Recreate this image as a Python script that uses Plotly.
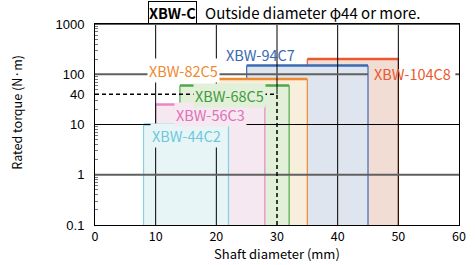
import math
import plotly.graph_objects as go

# ---------------- data ----------------
models = ["XBW-44C2", "XBW-56C3", "XBW-68C5", "XBW-82C5", "XBW-94C7", "XBW-104C8"]
shaft_min = [8, 10, 14, 20, 25, 35]
shaft_max = [22, 28, 32, 35, 45, 50]
rated_torque = [10, 25, 60, 80, 150, 200]

x_ticks = [0, 10, 20, 30, 40, 50, 60]
y_ticks = [0.1, 1, 10, 40, 100, 1000]
y_tick_text = ["0.1", "1", "10", "40", "100", "1000"]

ref_shaft = 30
ref_torque = 40

# ---------------- styles ----------------
line_colors = ["#86d0e2", "#e588c4", "#4ea84a", "#ee8a30", "#3b69b3", "#ea5a2e"]
text_colors = ["#6ec8dc", "#e070b8", "#3f9a3f", "#ee8a30", "#3a68b2", "#e95a30"]
fill_colors = ["#e8f5f7", "#f5e8f1", "#e3f0d9", "#f7eedb", "#dfe5ef", "#f1ddd4"]
label_x = [15, 19, 22.1, 14.6, 27.3, 52.3]
label_dy = [-11, -10, -10, 8.5, 11, -14]
label_bg = [fill_colors[0], fill_colors[1], fill_colors[2], "white",
            "rgba(0,0,0,0)", "rgba(0,0,0,0)"]

Y_MIN, Y_MAX = 0.1, 1000
X_MIN, X_MAX = 0, 60
FONT = "Noto Sans CJK JP"
GRID_DARK = "#606060"

shapes = []
# rectangles, back to front
for i in reversed(range(len(models))):
    x0, x1, top = shaft_min[i], shaft_max[i], rated_torque[i]
    shapes.append(dict(type="rect", xref="x", yref="y", x0=x0, x1=x1, y0=Y_MIN, y1=top,
                       fillcolor=fill_colors[i], line=dict(width=0)))
    for xv in (x0, x1):
        shapes.append(dict(type="line", xref="x", yref="y", x0=xv, x1=xv, y0=Y_MIN, y1=top,
                           line=dict(color=line_colors[i], width=1.2)))
    shapes.append(dict(type="line", xref="x", yref="y", x0=x0, x1=x1, y0=top, y1=top,
                       line=dict(color=line_colors[i], width=2.5)))

# vertical grid lines
for xv in x_ticks[1:-1]:
    ybot = ref_torque if xv == ref_shaft else Y_MIN
    shapes.append(dict(type="line", xref="x", yref="y", x0=xv, x1=xv, y0=ybot, y1=Y_MAX,
                       line=dict(color="black", width=1)))
# horizontal grid lines
shapes.append(dict(type="line", xref="x", yref="y", x0=X_MIN, x1=X_MAX, y0=10, y1=10,
                   line=dict(color="black", width=1)))
shapes.append(dict(type="line", xref="x", yref="y", x0=X_MIN, x1=X_MAX, y0=1, y1=1,
                   line=dict(color=GRID_DARK, width=2)))
shapes.append(dict(type="line", xref="x", yref="y", x0=X_MIN, x1=shaft_max[4], y0=100, y1=100,
                   line=dict(color=GRID_DARK, width=2)))
shapes.append(dict(type="line", xref="x", yref="y", x0=59.4, x1=X_MAX, y0=100, y1=100,
                   line=dict(color=GRID_DARK, width=2)))
shapes.append(dict(type="line", xref="x", yref="y", x0=X_MIN, x1=X_MAX, y0=Y_MAX, y1=Y_MAX,
                   line=dict(color=GRID_DARK, width=2)))
# dashed reference
shapes.append(dict(type="line", xref="x", yref="y", x0=X_MIN, x1=ref_shaft, y0=ref_torque, y1=ref_torque,
                   line=dict(color="black", width=1.5, dash="4px,3px")))
shapes.append(dict(type="line", xref="x", yref="y", x0=ref_shaft, x1=ref_shaft, y0=Y_MIN, y1=ref_torque,
                   line=dict(color="black", width=1.5, dash="4px,3px")))

annotations = []
for i, m in enumerate(models):
    annotations.append(dict(x=label_x[i], y=math.log10(rated_torque[i]), xref="x", yref="y",
                            yshift=label_dy[i], text=m, showarrow=False,
                            font=dict(family=FONT, size=14.5, color=text_colors[i]),
                            bgcolor=label_bg[i], borderpad=1, xanchor="center", yanchor="middle"))

annotations.append(dict(x=0.2116, y=1.058, xref="paper", yref="paper", text="<b>XBW-C</b>",
                        showarrow=False, font=dict(family=FONT, size=14.5, color="black"),
                        bordercolor="black", borderwidth=1, borderpad=0,
                        xanchor="center", yanchor="middle"))
annotations.append(dict(x=0.296, y=1.058, xref="paper", yref="paper",
                        text="Outside diameter φ44 or more.",
                        showarrow=False, font=dict(family=FONT, size=15, color="black"),
                        xanchor="left", yanchor="middle"))
annotations.append(dict(x=-0.218, y=0.562, xref="paper", yref="paper", text="Rated torque (N·m)",
                        textangle=-90, showarrow=False, font=dict(family=FONT, size=12.5, color="black"),
                        xanchor="center", yanchor="middle"))
annotations.append(dict(x=0.5, y=-0.142, xref="paper", yref="paper", text="Shaft diameter (mm)",
                        showarrow=False, font=dict(family=FONT, size=13, color="black"),
                        xanchor="center", yanchor="middle"))

minor_vals = [m * 10 ** k for k in range(-1, 3) for m in range(2, 10)]

fig = go.Figure()
fig.add_trace(go.Scatter(x=[X_MIN], y=[Y_MIN], mode="markers", marker=dict(opacity=0),
                         hoverinfo="skip", showlegend=False))
fig.update_layout(
    width=475, height=265,
    margin=dict(l=95, r=9, t=24, b=40),
    paper_bgcolor="white", plot_bgcolor="white",
    showlegend=False,
    shapes=shapes, annotations=annotations,
    xaxis=dict(range=[X_MIN, X_MAX], tickvals=x_ticks, showgrid=False, zeroline=False,
               showline=True, linecolor="black", linewidth=1, mirror=True, ticks="",
               tickfont=dict(family=FONT, size=12.5, color="black")),
    yaxis=dict(type="log", range=[math.log10(Y_MIN), math.log10(Y_MAX)], tickvals=y_ticks,
               ticktext=y_tick_text, showgrid=False, zeroline=False, showline=True,
               linecolor="black", linewidth=1, mirror=True, ticks="",
               ticklabelstandoff=7,
               tickfont=dict(family="Liberation Sans", size=13, color="black"),
               minor=dict(ticks="inside", ticklen=3, tickcolor="#777", tickvals=minor_vals,
                          showgrid=False)),
)
fig.write_html("out.html")
